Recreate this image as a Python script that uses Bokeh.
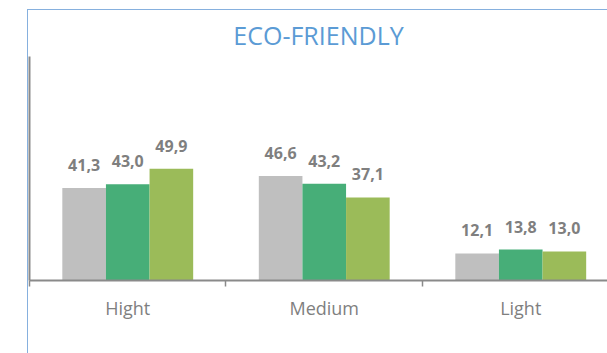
from bokeh.plotting import figure
from bokeh.models import Range1d, FixedTicker, ColumnDataSource, LinearAxis, Div, Spacer
from bokeh.layouts import column, row
from bokeh.core.properties import value
from bokeh.embed import file_html
from bokeh.resources import INLINE

categories = ["Hight", "Medium", "Light"]
series1 = [41.3, 46.6, 12.1]
series2 = [43.0, 43.2, 13.8]
series3 = [49.9, 37.1, 13.0]
colors = ["#BFBFBF", "#47AE78", "#9BBB59"]

FONT = "Open Sans"
GRAY_TXT = "#7F7F7F"
AXIS_GRAY = "#8A8A8A"
FRAME_BLUE = "#86B0DE"

p = figure(width=579, height=343, output_backend="svg", toolbar_location=None,
           x_range=Range1d(0, 2.9415), y_range=Range1d(0, 100),
           min_border_left=1, min_border_right=0, min_border_top=44,
           min_border_bottom=73, x_axis_location=None, y_axis_location=None)
p.outline_line_color = None
p.xgrid.visible = False
p.ygrid.visible = False
p.background_fill_color = "white"
p.border_fill_color = "white"

p.title.text = "ECO-FRIENDLY"
p.title.align = "center"
p.title.offset = 5
p.title.text_color = "#5B9BD5"
p.title.text_font = FONT
p.title.text_font_size = "25px"
p.title.text_font_style = "normal"
p.title.standoff = 10

centers = [i + 0.5 for i in range(len(categories))]
bar_w = 0.222
offsets = [-bar_w, 0.0, bar_w]
for vals, col, off in zip([series1, series2, series3], colors, offsets):
    src = ColumnDataSource(dict(
        x=[c + off for c in centers],
        top=vals,
        lbl=[f"{v:.1f}".replace(".", ",") for v in vals],
    ))
    p.vbar(x="x", top="top", bottom=0, width=bar_w, source=src,
           fill_color=col, line_color=None)
    p.text(x="x", y="top", text="lbl", source=src, text_align="center",
           text_baseline="alphabetic", y_offset=-23,
           text_font=value(FONT), text_font_size="16px",
           text_font_style="bold", text_color=GRAY_TXT)

xaxis = LinearAxis(ticker=FixedTicker(ticks=centers, minor_ticks=[0, 1, 2, 3]))
xaxis.major_label_overrides = {c: cat for c, cat in zip(centers, categories)}
xaxis.major_tick_line_color = None
xaxis.major_tick_out = 0
xaxis.major_tick_in = 0
xaxis.minor_tick_out = 6
xaxis.minor_tick_in = 0
xaxis.minor_tick_line_color = AXIS_GRAY
xaxis.minor_tick_line_width = 1.5
xaxis.axis_line_color = AXIS_GRAY
xaxis.axis_line_width = 2
xaxis.major_label_standoff = 9
xaxis.major_label_text_font = FONT
xaxis.major_label_text_font_size = "18px"
xaxis.major_label_text_color = GRAY_TXT
p.add_layout(xaxis, "below")

yaxis = LinearAxis(ticker=FixedTicker(ticks=[]))
yaxis.major_tick_line_color = None
yaxis.minor_tick_line_color = None
yaxis.major_label_text_font_size = "0px"
yaxis.axis_line_color = AXIS_GRAY
yaxis.axis_line_width = 2
p.add_layout(yaxis, "left")

# light-blue chart-area frame: top and left edges
line_style = {"background-color": FRAME_BLUE, "overflow": "hidden"}
top_line = Div(text="", width=580, height=1, margin=0, styles=line_style)
left_line = Div(text="", width=1, height=343, margin=0, styles=line_style)

layout = column(
    Spacer(width=607, height=9, margin=0),
    row(Spacer(width=27, height=1, margin=0), top_line, margin=0, spacing=0),
    row(Spacer(width=27, height=343, margin=0), left_line, p, margin=0, spacing=0),
    margin=0, spacing=0,
)

open("out.html", "w").write(file_html(layout, INLINE))
